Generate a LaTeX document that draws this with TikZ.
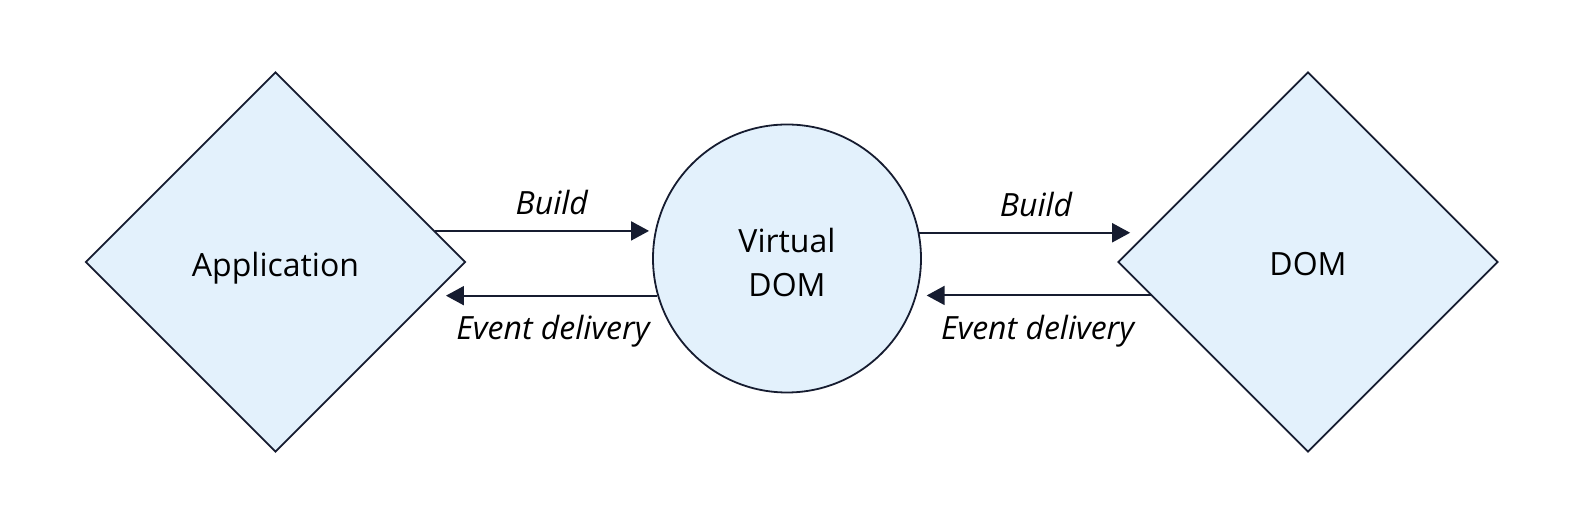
\documentclass[tikz,border=0pt]{standalone}
\usepackage{fontspec}
\setmainfont{Open Sans}
\usetikzlibrary{shapes.geometric,arrows.meta}
\definecolor{boxfill}{RGB}{227,241,252}
\definecolor{inkline}{RGB}{22,28,48}

\begin{document}
\begin{tikzpicture}[x=0.5pt,y=-0.5pt,
    component/.style ={diamond, draw=inkline, line width=0.9pt, fill=boxfill, inner sep=0pt, minimum width=190pt, minimum height=190pt, text depth=0pt, font=\fontsize{16}{22}\selectfont},
    layer/.style ={circle, draw=inkline, line width=0.9pt, fill=boxfill, inner sep=0pt, minimum size=134pt, align=center, font=\fontsize{16}{22}\selectfont},
    flow/.style ={line width=1pt, draw=inkline, -{Triangle[length=9pt,width=9.5pt]}},
    tag/.style ={anchor=base, font=\fontsize{16}{22}\selectfont\itshape}]
   \useasboundingbox (0,0) rectangle (1571,512);
   \node[component] (app)  at (275.5,262)  {\raisebox{-2pt}{Application}};
   \node[layer] (vdom)  at (787,258.5)  {\rule{0pt}{16pt}Virtual\\DOM};
   \node[component] (dom)  at (1308,262)  {\raisebox{-2pt}{DOM}};
   \draw[flow, shorten >=3pt] (app.11) -- node[tag, pos=0.53, yshift=8pt] {Build} (app.11 -| vdom.168.2);
   \draw[flow, shorten >=6.5pt] (vdom.196.7) -- node[tag, pos=0.465, yshift=-22pt] {Event delivery} (vdom.196.7 -| app.-12.7);
   \draw[flow, shorten >=9pt] (vdom.11.8) -- node[tag, pos=0.51, yshift=8pt] {Build} (vdom.11.8 -| dom.169);
   \draw[flow, shorten >=5pt] (dom.192.7) -- node[tag, pos=0.483, yshift=-22pt] {Event delivery} (dom.192.7 -| vdom.-16.7);
 \end{tikzpicture}
\end{document}
